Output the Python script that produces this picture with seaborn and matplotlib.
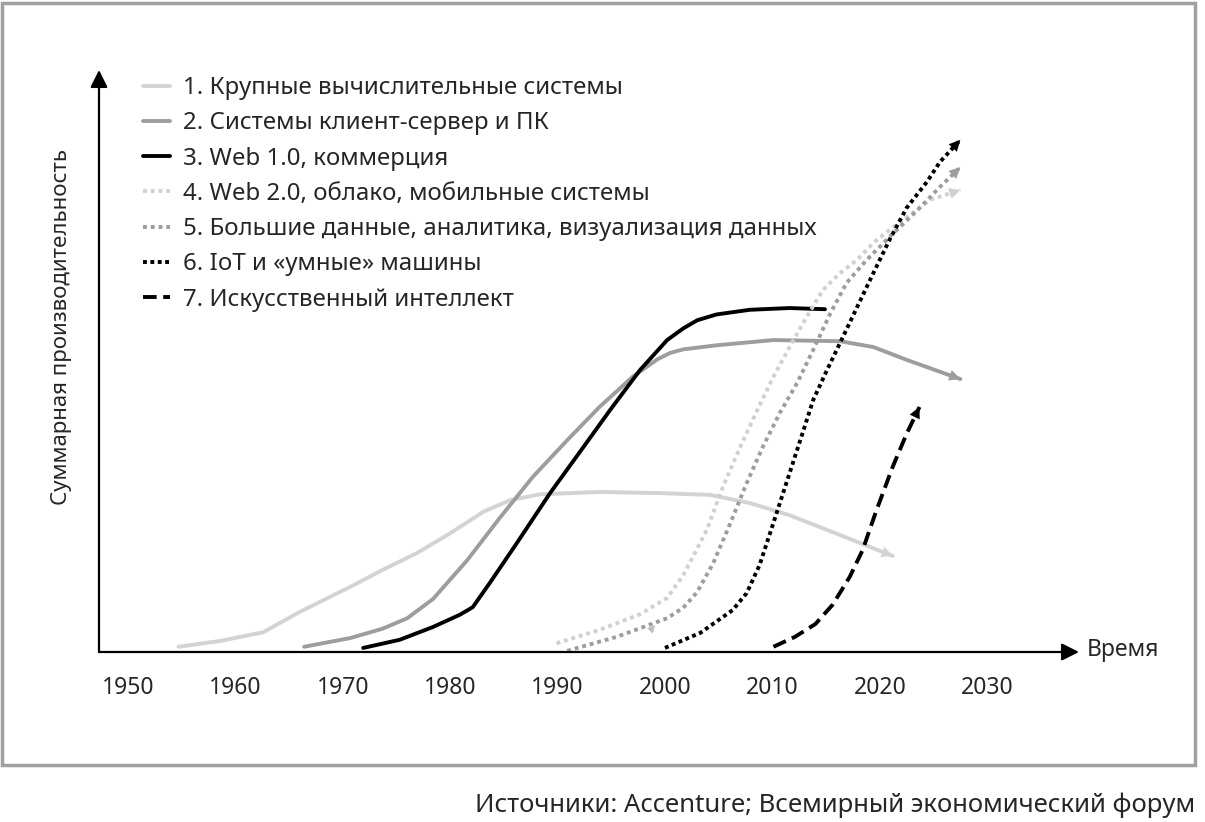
import matplotlib
matplotlib.use("Agg")
import matplotlib.pyplot as plt
import seaborn as sns
from matplotlib.patches import Rectangle

sns.set_theme(style="white")
plt.rcParams["font.family"] = ["Noto Sans", "DejaVu Sans"]

# series labels
labels = [
    "1. Крупные вычислительные системы",
    "2. Системы клиент-сервер и ПК",
    "3. Web 1.0, коммерция",
    "4. Web 2.0, облако, мобильные системы",
    "5. Большие данные, аналитика, визуализация данных",
    "6. IoT и «умные» машины",
    "7. Искусственный интеллект",
]

# years / cumulative productivity (arbitrary 0-100 scale)
mainframe_x = [1954.7, 1958.6, 1962.6, 1966.0, 1970.7, 1973.7, 1976.9, 1980.0, 1983.1, 1985.6, 1988.4,
               1993.9, 1999.5, 2004.2, 2007.9, 2011.6, 2016.3, 2021.2]
mainframe_y = [0.9, 1.9, 3.4, 6.9, 11.2, 14.1, 17.0, 20.4, 24.1, 26.1, 27.1,
               27.5, 27.3, 27.0, 25.6, 23.5, 20.1, 16.5]

client_x = [1966.4, 1970.7, 1973.7, 1976.0, 1978.4, 1981.6, 1984.6, 1987.7, 1990.9, 1993.9,
            1997.0, 1999.3, 2000.5, 2001.7, 2004.8, 2010.1, 2016.3, 2019.4, 2022.5, 2027.5]
client_y = [0.9, 2.4, 4.0, 5.8, 9.1, 15.8, 23.0, 30.1, 36.4, 42.1,
            47.3, 50.3, 51.4, 52.0, 52.7, 53.6, 53.4, 52.4, 50.2, 46.9]

web1_x = [1971.9, 1975.3, 1978.4, 1980.9, 1982.1, 1983.7, 1986.2, 1989.3, 1992.4, 1994.9,
          1997.7, 2000.2, 2001.7, 2003.0, 2004.8, 2007.9, 2011.6, 2014.9]
web1_y = [0.7, 2.1, 4.3, 6.4, 7.7, 11.9, 18.7, 27.3, 35.2, 41.6,
          48.5, 53.6, 55.6, 57.0, 58.0, 58.8, 59.1, 58.9]

web2_x = [1989.9, 1993.9, 1997.7, 2000.2, 2001.7, 2002.3, 2003.9, 2005.4, 2007.0, 2008.6, 2010.1,
          2011.6, 2013.2, 2014.7, 2016.3, 2017.9, 2019.4, 2020.9, 2022.5, 2024.7, 2027.5]
web2_y = [1.5, 3.8, 6.5, 9.3, 13.2, 15.3, 21.0, 28.4, 35.2, 41.6, 47.3,
          52.4, 57.6, 62.2, 65.1, 67.4, 70.3, 72.5, 74.7, 77.7, 79.4]

bigdata_x = [1990.9, 1995.5, 2000.2, 2001.7, 2003.0, 2004.5, 2006.1, 2007.6, 2009.1, 2010.7, 2012.3,
             2013.8, 2015.4, 2016.9, 2018.8, 2020.9, 2023.5, 2025.6, 2027.5]
bigdata_y = [0.2, 2.6, 5.8, 7.6, 10.3, 15.3, 22.2, 29.0, 35.2, 41.1, 46.2,
             51.9, 58.2, 63.4, 67.4, 71.3, 75.9, 79.9, 83.3]

iot_x = [2000.0, 2003.3, 2006.3, 2007.6, 2008.8, 2010.1, 2011.4, 2012.6, 2013.8, 2015.1,
         2016.3, 2017.9, 2019.4, 2020.9, 2022.5, 2024.4, 2025.6, 2027.5]
iot_y = [0.7, 3.3, 7.2, 10.1, 14.9, 22.2, 29.6, 36.4, 43.3, 48.5,
         53.1, 59.3, 65.1, 70.8, 76.3, 80.8, 84.2, 88.0]

ai_x = [2010.1, 2012.1, 2014.0, 2015.6, 2017.2, 2018.4, 2019.7, 2021.2, 2022.5, 2023.7]
ai_y = [0.9, 2.6, 4.8, 8.1, 12.9, 17.5, 24.4, 31.8, 37.5, 42.1]

# stray little arrowhead left near 2000 in the original
stub_x = [1998.1, 1999.1]
stub_y = [2.7, 4.6]

tick_years = [1950, 1960, 1970, 1980, 1990, 2000, 2010, 2020, 2030]
tick_labels = [str(t) for t in tick_years]

series = [
    (mainframe_x, mainframe_y, "#d3d3d3", "-", True),
    (client_x, client_y, "#9d9d9d", "-", True),
    (web1_x, web1_y, "black", "-", False),
    (web2_x, web2_y, "#d0d0d0", (0, (1, 1)), True),
    (bigdata_x, bigdata_y, "#9d9d9d", (0, (1, 1)), True),
    (iot_x, iot_y, "black", (0, (1, 0.9)), True),
    (ai_x, ai_y, "black", (0, (3.5, 1.7)), True),
]

fig = plt.figure(figsize=(12.05, 8.22), dpi=100)
ax = fig.add_axes([99 / 1205, 1 - 652 / 822, 980 / 1205, 582 / 822])

for (xs, ys, col, ls, arrow), lab in zip(series, labels):
    sns.lineplot(x=xs, y=ys, ax=ax, color=col, linestyle=ls, linewidth=2.8,
                 label=lab, sort=False, estimator=None)
    if arrow:
        ax.annotate("", xy=(xs[-1], ys[-1]), xytext=(xs[-2], ys[-2]),
                    arrowprops=dict(arrowstyle="-|>", color=col, lw=0,
                                    mutation_scale=20, shrinkA=0, shrinkB=0))

ax.annotate("", xy=(stub_x[1], stub_y[1]), xytext=(stub_x[0], stub_y[0]),
            arrowprops=dict(arrowstyle="-|>", color="#bdbdbd", lw=0,
                            mutation_scale=14, shrinkA=0, shrinkB=0))

ax.set_xlim(1947.3, 2038.55)
ax.set_ylim(0, 100)
for s in ax.spines.values():
    s.set_visible(False)
ax.set_yticks([])
ax.set_xticks(tick_years)
ax.set_xticklabels(tick_labels, fontsize=16.5)
ax.tick_params(axis="x", length=0, pad=17)

# axes with arrowheads
ax.annotate("", xy=(1, 0), xytext=(0, 0), xycoords="axes fraction",
            arrowprops=dict(arrowstyle="-|>", color="black", lw=1.6,
                            mutation_scale=26, shrinkA=0, shrinkB=0))
ax.annotate("", xy=(0, 1), xytext=(0, 0), xycoords="axes fraction",
            arrowprops=dict(arrowstyle="-|>", color="black", lw=1.6,
                            mutation_scale=26, shrinkA=0, shrinkB=0))
ax.text(1.008, 0.003, "Время", transform=ax.transAxes, ha="left", va="center", fontsize=16.5)

fig.text(62 / 1205, 1 - 327 / 822, "Суммарная производительность", rotation=90,
         ha="center", va="center", fontsize=16)

leg = ax.legend(loc="upper left", bbox_to_anchor=(143 / 1205, 1 - 76 / 822),
                bbox_transform=fig.transFigure, frameon=False, fontsize=17.3,
                handlelength=1.12, handletextpad=0.54, labelspacing=0.47,
                borderpad=0, borderaxespad=0)

fig.text(1195 / 1205, 1 - 805 / 822, "Источники: Accenture; Всемирный экономический форум",
         ha="right", va="center", fontsize=18.5)

fig.patches.append(Rectangle((2 / 1205, 1 - 765 / 822), 1193 / 1205, 762 / 822,
                             transform=fig.transFigure, fill=False,
                             edgecolor="#a0a0a0", linewidth=2.5))

fig.savefig("out.png", dpi=100)
